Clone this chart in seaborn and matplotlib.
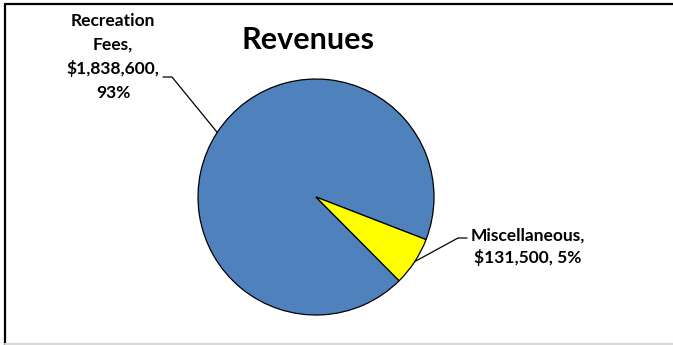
import numpy as np
import matplotlib
matplotlib.use("Agg")
import matplotlib.pyplot as plt
from matplotlib.lines import Line2D
import seaborn as sns

# Revenue sources
categories = ["Recreation Fees", "Miscellaneous"]
amounts = [1838600, 131500]
pct_labels = ["93%", "5%"]
colors = ["#4F81BD", "#FFFF00"]

sns.set_theme(style="white")
plt.rcParams["font.family"] = ["Lato", "DejaVu Sans"]

W, H = 673, 345
fig = plt.figure(figsize=(W / 100, H / 100), dpi=100)
fig.patch.set_facecolor("white")

# pie placed by pixel geometry: centre (316, 197), radius 118
cx, cy, r = 316, 197, 118
ax = fig.add_axes([(cx - r) / W, (H - cy - r) / H, 2 * r / W, 2 * r / H])
wedges, _ = ax.pie(amounts, colors=colors, startangle=-45.2, counterclock=False,
                   wedgeprops=dict(edgecolor="black", linewidth=0.9))
ax.set_xlim(-1, 1)
ax.set_ylim(-1, 1)
ax.set_aspect("equal")
ax.axis("off")

def px(x, y):
    """image pixel (top-left origin) -> data coords of the pie axes"""
    return ax.transData.inverted().transform((x, H - y))

label_text = [
    "Recreation\nFees,\n${:,},\n{}".format(amounts[0], pct_labels[0]),
    "Miscellaneous,\n${:,}, {}".format(amounts[1], pct_labels[1]),
]
# text centre, elbow point and horizontal end of each leader line (pixels)
text_pos = [(113, 57), (528, 247)]
elbows = [(172, 77), (458, 238)]
ends = [(163, 77), (467, 238)]
linesp = [1.55, 1.4]

for w, txt, tp, el, en, ls in zip(wedges, label_text, text_pos, elbows, ends, linesp):
    mid = np.deg2rad((w.theta1 + w.theta2) / 2)
    ax_pt = (np.cos(mid), np.sin(mid))
    e = px(*el)
    n = px(*en)
    ax.plot([ax_pt[0], e[0], n[0]], [ax_pt[1], e[1], n[1]], color="black",
            lw=0.9, clip_on=False)
    fig.text(tp[0] / W, 1 - tp[1] / H, txt, ha="center", va="center",
             fontsize=12.5, fontweight="bold", linespacing=ls, color="black")

fig.text(308 / W, 1 - 40 / H, "Revenues", ha="center", va="center",
         fontsize=22, fontweight="bold", color="black")

# chart frame
fig.add_artist(Line2D([5 / W, 5 / W], [0, 1 - 4 / H], color="black", lw=1.6,
                      transform=fig.transFigure))
fig.add_artist(Line2D([5 / W, 1], [1 - 4 / H, 1 - 4 / H], color="black", lw=1.6,
                      transform=fig.transFigure))
fig.add_artist(Line2D([5 / W, 1], [1.5 / H, 1.5 / H], color="#d9d9d9", lw=1.5,
                      transform=fig.transFigure))

fig.savefig("out.png", dpi=100, facecolor="white")
